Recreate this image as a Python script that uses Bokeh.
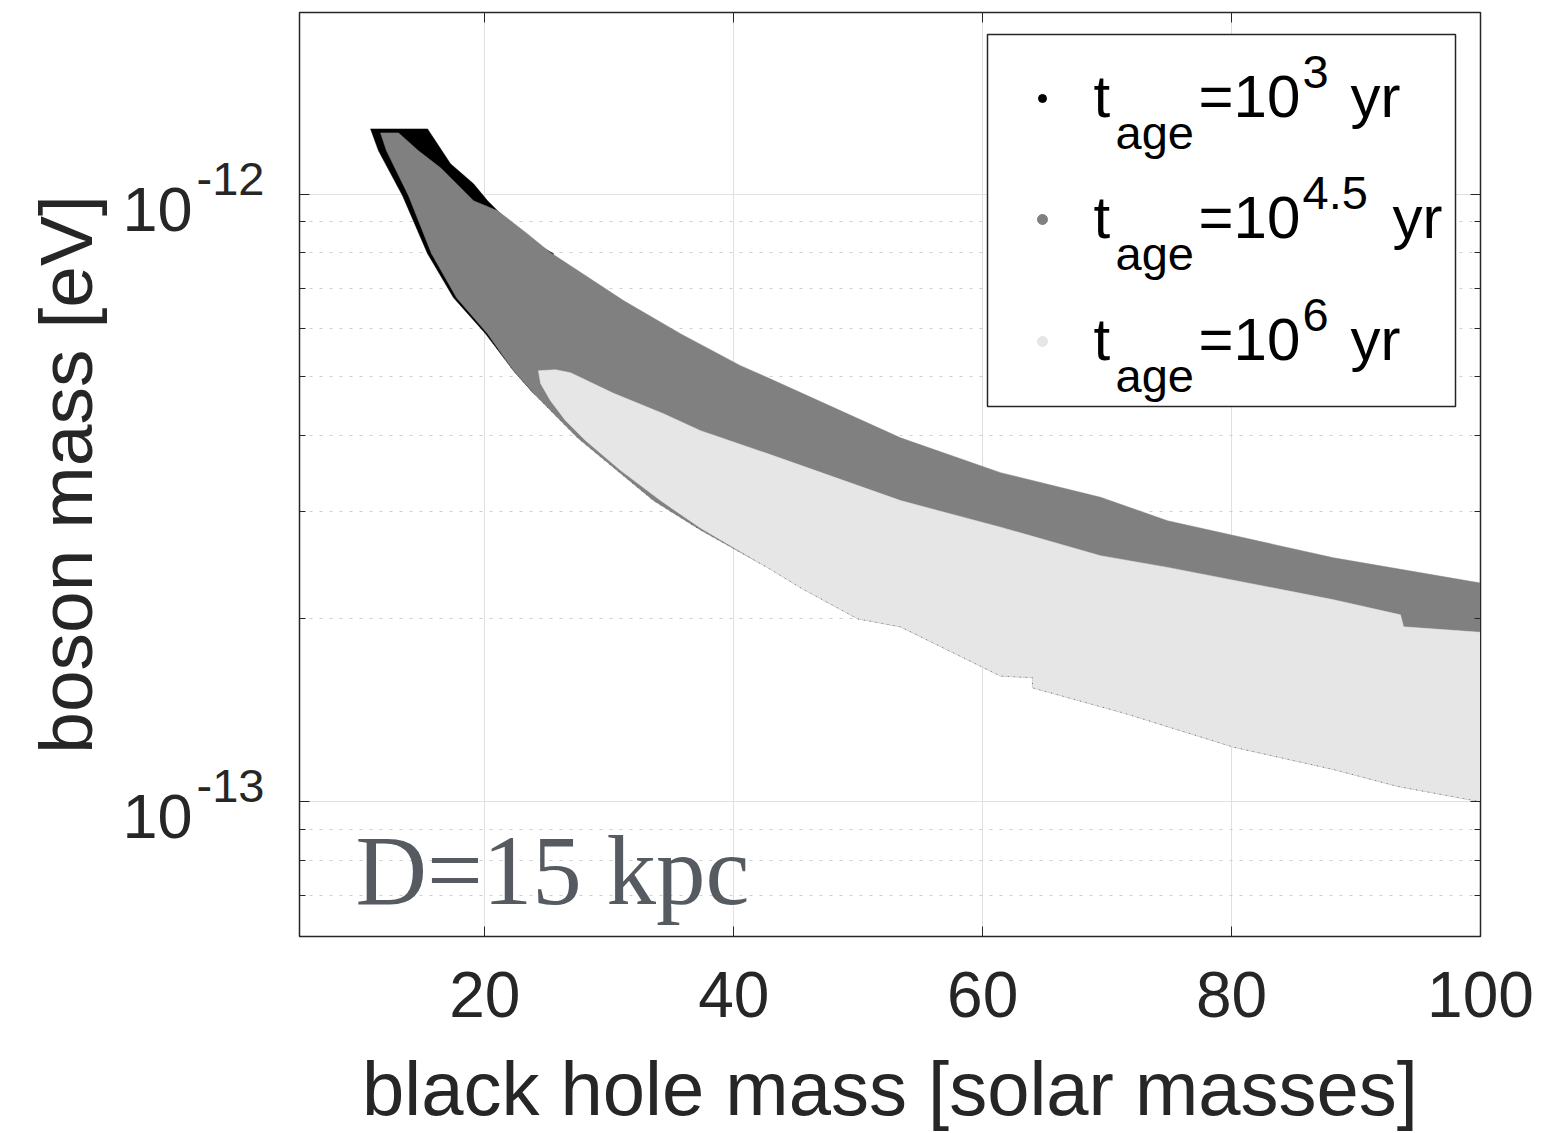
import math
from bokeh.plotting import figure
from bokeh.layouts import row
from bokeh.models import Range1d, FixedTicker, LinearAxis, LogAxis, ColumnDataSource
from bokeh.core.properties import value
from bokeh.embed import file_html
from bokeh.resources import INLINE

# ---------------- data ----------------
# lower edge shared by all regions (black hole mass [Msun], boson mass [eV])
mass_lower = [10.82, 11.46, 13.39, 15.40, 17.49, 20.06, 22.31, 23.91, 27.45, 33.55,
              37.33, 42.70, 45.37, 49.95, 53.40, 61.43, 64.00, 64.00, 71.31, 80.15,
              88.19, 93.33, 100.0]
boson_lower = [1.28e-12, 1.178e-12, 9.94e-13, 7.98e-13, 6.75e-13, 5.89e-13, 5.12e-13,
               4.70e-13, 3.97e-13, 3.13e-13, 2.80e-13, 2.43e-13, 2.25e-13, 2.00e-13,
               1.94e-13, 1.61e-13, 1.60e-13, 1.54e-13, 1.40e-13, 1.23e-13, 1.13e-13,
               1.06e-13, 1.00e-13]

# t_age = 10^3 yr : upper edge
mass_1e3 = [10.82, 15.40, 17.24, 19.09, 20.22, 21.82, 23.67, 25.52]
boson_1e3 = [1.28e-12, 1.28e-12, 1.122e-12, 1.040e-12, 9.75e-13, 9.04e-13, 8.38e-13, 7.98e-13]

# t_age = 10^4.5 yr : upper edge and upper part of its lower edge
mass_1e45 = [11.62, 13.07, 14.67, 16.44, 18.05, 19.09, 21.02, 23.43, 25.28, 31.14,
             35.72, 40.54, 42.70, 53.40, 61.43, 69.47, 74.85, 88.19, 100.0]
boson_1e45 = [1.261e-12, 1.261e-12, 1.178e-12, 1.105e-12, 1.024e-12, 9.75e-13, 9.39e-13,
              8.60e-13, 8.01e-13, 6.68e-13, 5.89e-13, 5.22e-13, 4.99e-13, 3.97e-13,
              3.48e-13, 3.17e-13, 2.90e-13, 2.52e-13, 2.29e-13]
mass_1e45_edge = [11.62, 12.10, 13.87, 15.72, 17.73, 20.22]
boson_1e45_edge = [1.261e-12, 1.178e-12, 9.94e-13, 7.98e-13, 6.75e-13, 5.89e-13]

# t_age = 10^6 yr : upper edge and left edge
mass_1e6 = [24.31, 25.68, 26.89, 30.34, 34.36, 37.33, 42.70, 53.40, 61.43, 69.47,
            74.85, 88.19, 93.57, 93.82, 100.0]
boson_1e6 = [5.12e-13, 5.14e-13, 5.08e-13, 4.70e-13, 4.35e-13, 4.08e-13, 3.74e-13,
             3.13e-13, 2.83e-13, 2.54e-13, 2.43e-13, 2.15e-13, 2.03e-13, 1.94e-13, 1.90e-13]
mass_1e6_edge = [24.31, 24.48, 25.28, 26.48, 28.09, 30.90, 34.12, 37.33]
boson_1e6_edge = [5.12e-13, 4.88e-13, 4.57e-13, 4.24e-13, 3.93e-13, 3.51e-13, 3.13e-13, 2.82e-13]

x_ticks = [20, 40, 60, 80, 100]
y_ticks = [1e-13, 1e-12]
y_minor = [7e-14, 8e-14, 9e-14, 2e-13, 3e-13, 4e-13, 5e-13, 6e-13, 7e-13, 8e-13, 9e-13]
y_tick_exps = ["-13", "-12"]
legend_sup = ["3", "4.5", "6"]
legend_colors = ["#000000", "#808080", "#e6e6e6"]

X0, X1 = 5.11, 100.0
Y0, Y1 = 6.0e-14, 1.99e-12

# ---------------- layout helpers (page pixels -> data) ----------------
W, H = 1540, 1133
GUT = 290                      # width of the left gutter figure (y tick labels, y title)
FL, FR, FT, FB = 299, 1480, 12, 936
LY0, LY1 = math.log10(Y0), math.log10(Y1)
K = 0.35                       # baseline -> middle-of-em-box offset (in em)


def px2x(px):
    return X0 + (px - FL) / (FR - FL) * (X1 - X0)


def py2y(py):
    return 10 ** (LY1 - (py - FT) / (FB - FT) * (LY1 - LY0))


def y2py(v):
    return FT + (LY1 - math.log10(v)) / (LY1 - LY0) * (FB - FT)


def mid(base_py, size):
    """anchor (middle of the text box) for a wanted baseline"""
    return base_py - K * size


INK = "#262626"
SANS = "Liberation Sans"

yr = Range1d(Y0, Y1)
p = figure(width=W - GUT, height=H, x_range=Range1d(X0, X1), y_range=yr,
           y_axis_type="log", output_backend="svg", toolbar_location=None,
           min_border_left=FL - GUT, min_border_right=W - FR,
           min_border_top=FT, min_border_bottom=H - FB)
p.background_fill_color = "white"
p.border_fill_color = "white"
p.outline_line_color = INK
p.outline_line_width = 1.5

xticker = FixedTicker(ticks=x_ticks, minor_ticks=[])
yticker = FixedTicker(ticks=y_ticks, minor_ticks=y_minor)

xa = p.xaxis[0]
xa.ticker = xticker
xa.major_label_text_font = SANS
xa.major_label_text_font_size = "64px"
xa.major_label_text_color = INK
xa.major_label_standoff = 35
xa.major_tick_in = 10
xa.major_tick_out = 0
xa.minor_tick_line_color = None
xa.axis_line_color = INK
xa.major_tick_line_color = INK
xa.axis_label = "black hole mass [solar masses]"
xa.axis_label_text_font = SANS
xa.axis_label_text_font_size = "76px"
xa.axis_label_text_font_style = "normal"
xa.axis_label_text_color = INK
xa.axis_label_standoff = 26

ya = p.yaxis[0]
ya.ticker = yticker
ya.major_label_text_color = None
ya.major_label_text_font_size = "2px"
ya.major_label_standoff = 0
ya.major_tick_in = 10
ya.major_tick_out = 0
ya.minor_tick_in = 6
ya.minor_tick_out = 0
ya.axis_line_color = INK
ya.major_tick_line_color = INK
ya.minor_tick_line_color = INK

top = LinearAxis(ticker=xticker, major_label_text_color=None, major_label_text_font_size="2px",
                 major_label_standoff=0, major_tick_in=10, major_tick_out=0,
                 minor_tick_line_color=None, axis_line_color=INK, major_tick_line_color=INK)
p.add_layout(top, "above")
right = LogAxis(ticker=yticker, major_label_text_color=None, major_label_text_font_size="2px",
                major_label_standoff=0, major_tick_in=10, major_tick_out=0, minor_tick_in=6,
                minor_tick_out=0, axis_line_color=INK, major_tick_line_color=INK,
                minor_tick_line_color=INK)
p.add_layout(right, "right")

p.xgrid.ticker = xticker
p.ygrid.ticker = yticker
p.xgrid.grid_line_color = "#e0e0e0"
p.ygrid.grid_line_color = "#e0e0e0"
p.ygrid.minor_grid_line_color = "#cfcfcf"
p.ygrid.minor_grid_line_dash = "3 7"

# ---------------- regions ----------------
blk_x = mass_1e3 + mass_lower[:8][::-1]
blk_y = boson_1e3 + boson_lower[:8][::-1]
p.patch(blk_x, blk_y, fill_color="#000000", line_color="#000000", line_width=0.5)

gl_x = mass_1e45_edge + mass_lower[6:]
gl_y = boson_1e45_edge + boson_lower[6:]
p.patch(mass_1e45 + gl_x[::-1], boson_1e45 + gl_y[::-1],
        fill_color="#808080", line_color="#808080", line_width=0.5)

ll_x = mass_1e6_edge + mass_lower[11:]
ll_y = boson_1e6_edge + boson_lower[11:]
p.patch(mass_1e6 + ll_x[::-1], boson_1e6 + ll_y[::-1],
        fill_color="#e6e6e6", line_color="#e6e6e6", line_width=0.5)

p.line(mass_lower[5:], boson_lower[5:], line_color="#303030", line_width=1,
       line_dash="1 5", line_alpha=0.6)

# ---------------- legend (drawn by hand for sub/superscripts) ----------------
p.quad(left=[px2x(987)], right=[px2x(1455)], top=[py2y(34)], bottom=[py2y(406)],
       fill_color="white", line_color=INK, line_width=1.5)
bases = [117, 238, 360]
yr_x = [1350, 1392, 1350]
p.scatter([px2x(1042)] * 3, [py2y(b - 19) for b in bases], size=[8, 10, 10],
          fill_color=legend_colors, line_color=legend_colors)

BIG, SMALL = 60, 47
big = dict(x=[], y=[], t=[])
small = dict(x=[], y=[], t=[])
for b, s, yx in zip(bases, legend_sup, yr_x):
    for px, py, t in [(1093, b, "t"), (1198, b, "=10"), (yx, b, "yr")]:
        big["x"].append(px2x(px)); big["y"].append(py2y(mid(py, BIG))); big["t"].append(t)
    for px, py, t in [(1115, b + 31, "age"), (1302, b - 29, s)]:
        small["x"].append(px2x(px)); small["y"].append(py2y(mid(py, SMALL))); small["t"].append(t)
p.text("x", "y", "t", source=ColumnDataSource(big), text_font=value(SANS),
       text_font_size=value(f"{BIG}px"), text_color="#000000", text_baseline="middle",
       text_align="left")
p.text("x", "y", "t", source=ColumnDataSource(small), text_font=value(SANS),
       text_font_size=value(f"{SMALL}px"), text_color="#000000", text_baseline="middle",
       text_align="left")

p.text([px2x(355)], [py2y(mid(905, 99))], ["D=15 kpc"], text_font=value("Liberation Serif"),
       text_font_size=value("99px"), text_color="#555b61", text_baseline="middle",
       text_align="left")

# ---------------- left gutter: y tick labels 10^n and y title ----------------
g = figure(width=GUT, height=H, x_range=Range1d(0, GUT), y_range=yr, y_axis_type="log",
           output_backend="svg", toolbar_location=None, x_axis_location=None,
           y_axis_location=None, min_border_left=0, min_border_right=0,
           min_border_top=FT, min_border_bottom=H - FB)
g.outline_line_color = None
g.grid.visible = False
g.background_fill_color = "white"
g.border_fill_color = "white"

g.text([192] * len(y_ticks), [py2y(mid(y2py(v) + 37, 63)) for v in y_ticks],
       ["10"] * len(y_ticks), text_font=value(SANS), text_font_size=value("63px"),
       text_color=INK, text_baseline="middle", text_align="right")
g.text([196] * len(y_ticks), [py2y(mid(y2py(v) + 1, 47)) for v in y_ticks], y_tick_exps,
       text_font=value(SANS), text_font_size=value("47px"), text_color=INK,
       text_baseline="middle", text_align="left")
g.text([92 - K * 75], [py2y(474)], ["boson mass [eV]"], angle=math.pi / 2,
       text_font=value(SANS), text_font_size=value("75px"), text_color=INK,
       text_baseline="middle", text_align="center")

layout = row(g, p)
open("out.html", "w").write(file_html(layout, INLINE))
